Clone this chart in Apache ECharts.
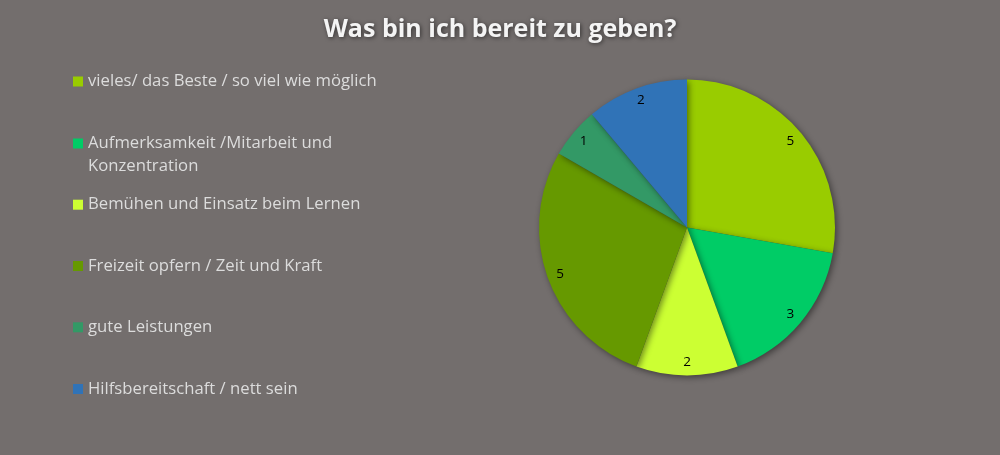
<!DOCTYPE html>
<html>
<head>
<meta charset="utf-8">
<script src="https://cdn.jsdelivr.net/npm/echarts@6/dist/echarts.min.js"></script>
<style>html,body{margin:0;padding:0;background:#736E6D;}#c{width:1000px;height:455px;}</style>
</head>
<body>
<div id="c"></div>
<script>
const titleText = 'Was bin ich bereit zu geben?';
const categories = [
  'vieles/ das Beste / so viel wie möglich',
  'Aufmerksamkeit /Mitarbeit und Konzentration',
  'Bemühen und Einsatz beim Lernen',
  'Freizeit opfern / Zeit und Kraft',
  'gute Leistungen',
  'Hilfsbereitschaft / nett sein'
];
const legendLabels = [
  'vieles/ das Beste / so viel wie möglich',
  'Aufmerksamkeit /Mitarbeit und\nKonzentration',
  'Bemühen und Einsatz beim Lernen',
  'Freizeit opfern / Zeit und Kraft',
  'gute Leistungen',
  'Hilfsbereitschaft / nett sein'
];
const values = [5, 3, 2, 5, 1, 2];
const colors = ['#99CC00', '#00CC66', '#CCFF33', '#669900', '#339966', '#3073B7'];

const FONT = '"Open Sans"';
const LINE_H = 23;
const legendCenters = [81.5, 143.5, 204.7, 266, 327.3, 389];

const chart = echarts.init(document.getElementById('c'), null, {renderer: 'canvas'});
const data = categories.map((n, i) => ({name: n, value: values[i], itemStyle: {color: colors[i]}}));

const legends = categories.map((n, i) => {
  const lbl = legendLabels[i];
  const lines = lbl.split('\n').length;
  const txt = lines > 1 ? ' \n' + lbl : lbl;
  const h = (lines > 1 ? 3 : 1) * LINE_H;
  return {
    data: [n],
    orient: 'vertical',
    left: 73,
    top: legendCenters[i] - h / 2,
    padding: 0,
    icon: 'rect',
    itemWidth: 10,
    itemHeight: 10,
    selectedMode: false,
    formatter: () => txt,
    textStyle: {color: '#DCDCDC', fontFamily: FONT, fontSize: 16.7, lineHeight: LINE_H}
  };
});

chart.setOption({
  backgroundColor: '#736E6D',
  animation: false,
  color: colors,
  title: {
    text: titleText,
    left: 'center',
    top: 12,
    textStyle: {
      color: '#F4F4F4', fontFamily: FONT, fontWeight: 'bold', fontSize: 25,
      textShadowColor: 'rgba(0,0,0,0.55)', textShadowBlur: 4, textShadowOffsetX: 1, textShadowOffsetY: 1
    }
  },
  legend: legends,
  series: [
    {
      type: 'pie',
      center: [687, 227.5],
      radius: [0, 148],
      startAngle: 90,
      clockwise: true,
      silent: true,
      label: {show: false},
      labelLine: {show: false},
      itemStyle: {shadowBlur: 6, shadowOffsetX: 2, shadowOffsetY: 2, shadowColor: 'rgba(0,0,0,0.45)'},
      data: data
    },
    {
      type: 'pie',
      center: [687, 227.5],
      radius: [116, 148],
      startAngle: 90,
      clockwise: true,
      silent: true,
      itemStyle: {color: 'rgba(0,0,0,0)'},
      label: {show: true, position: 'inside', formatter: '{c}', color: '#000', fontFamily: FONT, fontSize: 13.5, textBorderWidth: 0},
      labelLine: {show: false},
      data: categories.map((n, i) => ({name: n, value: values[i], itemStyle: {color: 'rgba(0,0,0,0)'}}))
    }
  ]
});
</script>
</body>
</html>
